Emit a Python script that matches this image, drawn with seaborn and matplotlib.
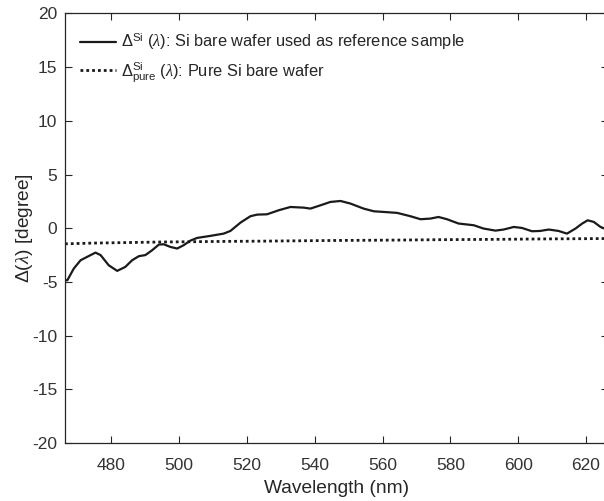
import numpy as np
import pandas as pd
import matplotlib
matplotlib.use('Agg')
import matplotlib.pyplot as plt
import seaborn as sns

# solid curve: Si bare wafer used as reference sample
wl_ref = [466.3, 467.0, 468.9, 470.9, 472.8, 475.3, 476.8, 479.2, 481.7, 484.1,
          486.1, 488.1, 490.0, 492.0, 494.0, 495.4, 497.4, 499.4, 501.3, 503.3,
          505.3, 509.2, 513.1, 515.1, 518.1, 521.0, 523.0, 525.9, 529.4, 532.8,
          536.7, 538.7, 541.7, 544.6, 547.6, 550.5, 554.4, 557.4, 560.3, 564.3,
          568.2, 571.2, 574.1, 576.5, 579.0, 582.4, 586.9, 589.8, 593.3, 595.7,
          598.7, 601.1, 604.1, 606.5, 609.0, 611.9, 614.4, 616.9, 618.9, 620.5,
          622.3, 624.3, 625.5]
delta_ref = [-4.84, -4.84, -3.75, -2.98, -2.67, -2.27, -2.50, -3.45, -3.97, -3.60,
             -2.98, -2.60, -2.50, -2.05, -1.52, -1.49, -1.74, -1.89, -1.58, -1.15,
             -0.90, -0.71, -0.50, -0.25, 0.53, 1.12, 1.27, 1.30, 1.68, 1.98,
             1.92, 1.83, 2.14, 2.45, 2.54, 2.30, 1.83, 1.58, 1.52, 1.43,
             1.12, 0.84, 0.90, 1.05, 0.84, 0.44, 0.28, -0.03, -0.22, -0.12,
             0.12, 0.03, -0.28, -0.25, -0.12, -0.25, -0.50, -0.03, 0.44, 0.74,
             0.59, 0.12, -0.03]

# dotted curve: pure Si bare wafer
wl_pure = [466.3, 475, 485, 495, 505, 515, 525, 535, 545, 555, 565, 575, 585,
           595, 605, 615, 625.5]
delta_pure = [-1.45, -1.38, -1.33, -1.28, -1.25, -1.22, -1.20, -1.17, -1.14,
              -1.12, -1.10, -1.07, -1.05, -1.03, -1.00, -0.98, -0.96]

xticks = [480, 500, 520, 540, 560, 580, 600, 620]
yticks = [-20, -15, -10, -5, 0, 5, 10, 15, 20]

sns.set_style('ticks')
plt.rcParams['font.family'] = ['Liberation Sans', 'DejaVu Sans']
plt.rcParams['axes.unicode_minus'] = False
plt.rcParams['mathtext.fontset'] = 'custom'
plt.rcParams['mathtext.rm'] = 'Liberation Sans'
plt.rcParams['mathtext.it'] = 'Liberation Serif:italic'

df_ref = pd.DataFrame({'wl': wl_ref, 'delta': delta_ref})
df_pure = pd.DataFrame({'wl': wl_pure, 'delta': delta_pure})

fig = plt.figure(figsize=(6.04, 5.01), dpi=100)
ax = fig.add_axes([65 / 604, 58 / 501, 543 / 604, 429.5 / 501])

sns.lineplot(data=df_ref, x='wl', y='delta', ax=ax, color='#1a1a1a', lw=1.6,
             label=r'$\Delta^{\mathrm{Si}}$ $(\lambda)$: Si bare wafer used as reference sample')
sns.lineplot(data=df_pure, x='wl', y='delta', ax=ax, color='#1a1a1a', lw=2.0,
             linestyle=(0, (1, 1.1)),
             label=r'$\Delta^{\mathrm{Si}}_{\mathrm{pure}}$ $(\lambda)$: Pure Si bare wafer')

ax.set_xlim(466.3, 626.5)
ax.set_ylim(-20, 20)
ax.set_xticks(xticks)
ax.set_yticks(yticks)
ax.tick_params(direction='in', length=5, width=0.8, top=True, right=True,
               labelsize=12.5, colors='#262626', labelcolor='#333333')
ax.tick_params(axis='x', pad=11)
ax.tick_params(axis='y', pad=5.5)
for s in ax.spines.values():
    s.set_color('#262626')
    s.set_linewidth(0.9)
ax.set_xlabel('Wavelength (nm)', fontsize=13.75, color='#262626', labelpad=5)
ax.set_ylabel(r'$\Delta(\lambda)$ [degree]', fontsize=13.75, color='#262626',
              labelpad=-2)

leg = ax.legend(loc='upper left', bbox_to_anchor=(0.006, 0.985), frameon=False,
                fontsize=11.8, handlelength=2.2, handletextpad=0.3,
                borderaxespad=0.3, labelspacing=0.45)

fig.savefig('out.png', dpi=100)
